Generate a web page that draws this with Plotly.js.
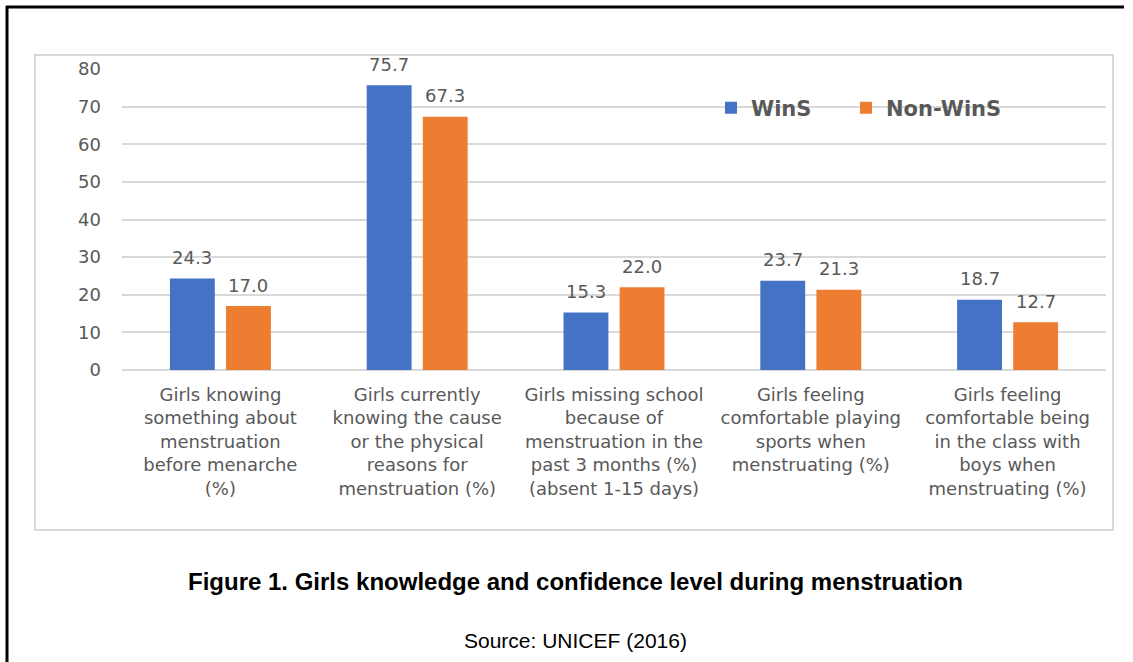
<!DOCTYPE html>
<html>
<head>
<meta charset="utf-8">
<script src="https://cdn.plot.ly/plotly-3.0.1.min.js"></script>
<style>
  html, body { margin: 0; padding: 0; background: #fff; }
  #chart { width: 1133px; height: 662px; }
</style>
</head>
<body>
<div id="chart"></div>
<script>
const categories = [
  "Girls knowing<br>something about<br>menstruation<br>before menarche<br>(%)",
  "Girls currently<br>knowing the cause<br>or the physical<br>reasons for<br>menstruation (%)",
  "Girls missing school<br>because of<br>menstruation in the<br>past 3 months (%)<br>(absent 1-15 days)",
  "Girls feeling<br>comfortable playing<br>sports when<br>menstruating (%)",
  "Girls feeling<br>comfortable being<br>in the class with<br>boys when<br>menstruating (%)"
];
const winsValues = [24.3, 75.7, 15.3, 23.7, 18.7];
const nonWinsValues = [17.0, 67.3, 22.0, 21.3, 12.7];
const yTicks = [0, 10, 20, 30, 40, 50, 60, 70, 80];

const W = 1133, H = 662;
const M = { l: 122, r: 27, t: 69, b: 292 };
const PW = W - M.l - M.r, PH = H - M.t - M.b;
const px = x => (x - M.l) / PW;
const py = y => (H - M.b - y) / PH;

const chartFont = "DejaVu Sans, Open Sans, sans-serif";
const gray = "#595959";
const BARGAP = 0.43, GROUPGAP = 0.2;
const slot = PW / categories.length * (1 - BARGAP) / 2;
const barOffset = slot / 2;

const traces = [
  {
    type: "bar", name: "WinS", x: categories, y: winsValues,
    marker: { color: "#4472C4" }, hoverinfo: "y", legend: "legend"
  },
  {
    type: "bar", name: "Non-WinS", x: categories, y: nonWinsValues,
    marker: { color: "#ED7D31" }, hoverinfo: "y", legend: "legend2"
  }
];

const labelFont = { family: chartFont, size: 18, color: gray };
const valueLabels = [];
categories.forEach((c, i) => {
  valueLabels.push({ xref: "x", yref: "y", x: c, y: winsValues[i], xshift: -barOffset, yshift: 21,
    yanchor: "middle", text: winsValues[i].toFixed(1), showarrow: false, font: labelFont });
  valueLabels.push({ xref: "x", yref: "y", x: c, y: nonWinsValues[i], xshift: barOffset, yshift: 21,
    yanchor: "middle", text: nonWinsValues[i].toFixed(1), showarrow: false, font: labelFont });
});

const legendStyle = x => ({
  orientation: "h", x: px(x), y: py(108), xanchor: "left", yanchor: "middle",
  font: { family: chartFont, size: 21, color: gray, weight: "bold" },
  bgcolor: "rgba(0,0,0,0)", itemwidth: 30
});

const layout = {
  width: W, height: H,
  margin: M,
  paper_bgcolor: "#fff", plot_bgcolor: "#fff",
  font: { family: chartFont, color: gray, size: 18 },
  barmode: "group", bargap: BARGAP, bargroupgap: GROUPGAP,
  showlegend: true,
  legend: legendStyle(711),
  legend2: legendStyle(846),
  xaxis: {
    type: "category", showgrid: false, showline: false, zeroline: false,
    tickfont: { family: chartFont, size: 18, color: gray },
    ticks: "", ticklabelstandoff: 12, automargin: false
  },
  yaxis: {
    range: [0, 80], tickvals: yTicks, ticktext: yTicks.map(String),
    showgrid: true, gridcolor: "#d9d9d9", gridwidth: 2,
    zeroline: true, zerolinecolor: "#d9d9d9", zerolinewidth: 2,
    showline: false, ticks: "", ticklabelstandoff: 20,
    tickfont: { family: chartFont, size: 18, color: gray }, automargin: false
  },
  shapes: [
    { type: "rect", xref: "paper", yref: "paper",
      x0: px(35), x1: px(1113), y0: py(55), y1: py(530),
      line: { color: "#d9d9d9", width: 2 }, fillcolor: "rgba(0,0,0,0)", layer: "below" },
    { type: "line", xref: "paper", yref: "paper",
      x0: px(7), x1: px(7), y0: py(6), y1: py(662), line: { color: "#000", width: 3 } },
    { type: "line", xref: "paper", yref: "paper",
      x0: px(6), x1: px(1124), y0: py(7), y1: py(7), line: { color: "#000", width: 3 } }
  ],
  annotations: valueLabels.concat([
    { xref: "paper", yref: "paper", x: px(575), y: py(581), xanchor: "center", yanchor: "middle",
      text: "<b>Figure 1. Girls knowledge and confidence level during menstruation</b>",
      showarrow: false, font: { family: "Liberation Sans, Arial, sans-serif", size: 24, color: "#000" } },
    { xref: "paper", yref: "paper", x: px(575), y: py(640), xanchor: "center", yanchor: "middle",
      text: "Source: UNICEF (2016)",
      showarrow: false, font: { family: "Liberation Sans, Arial, sans-serif", size: 21, color: "#000" } }
  ])
};

Plotly.newPlot("chart", traces, layout, { displayModeBar: false, responsive: false });
</script>
</body>
</html>
